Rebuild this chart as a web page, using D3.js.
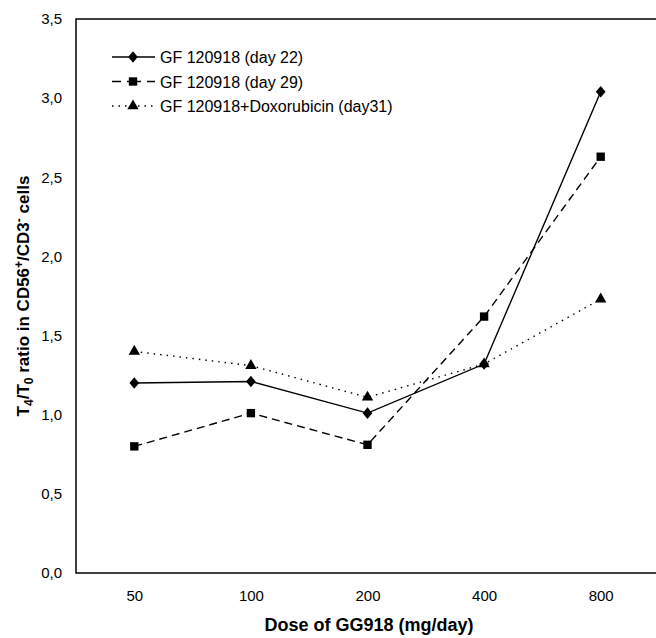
<!DOCTYPE html>
<html>
<head>
<meta charset="utf-8">
<script src="https://cdn.jsdelivr.net/npm/d3@7"></script>
<style>
  body { margin: 0; background: #fff; }
  text { font-family: "Liberation Sans", Arial, sans-serif; fill: #000; }
</style>
</head>
<body>
<div id="chart"></div>
<script>
// dose categories (mg/day)
var doses = ["50", "100", "200", "400", "800"];

// T4/T0 ratio per series
var day22 = [1.20, 1.21, 1.01, 1.32, 3.04];
var day29 = [0.80, 1.01, 0.81, 1.62, 2.63];
var doxo31 = [1.40, 1.31, 1.11, 1.32, 1.73];

var yTicks = [0, 0.5, 1, 1.5, 2, 2.5, 3, 3.5];

var seriesNames = ["GF 120918 (day 22)", "GF 120918 (day 29)", "GF 120918+Doxorubicin (day31)"];

var width = 656, height = 638;
var margin = {top: 19, right: -3, bottom: 65, left: 76};

var svg = d3.select("#chart").append("svg")
    .attr("width", width)
    .attr("height", height);

var x = d3.scalePoint()
    .domain(doses)
    .range([margin.left, width - margin.right])
    .padding(0.5);

var y = d3.scaleLinear()
    .domain([0, 3.5])
    .range([height - margin.bottom, margin.top]);

var fmt = function(d) { return d3.format(".1f")(d).replace(".", ","); };

// frame (right side falls just outside the picture)
svg.append("rect")
    .attr("x", margin.left)
    .attr("y", y(3.5))
    .attr("width", width - margin.right - margin.left)
    .attr("height", y(0) - y(3.5))
    .attr("fill", "none")
    .attr("stroke", "#000")
    .attr("stroke-width", 1.5);

// Y axis labels
var yAxis = svg.append("g")
    .attr("transform", "translate(" + margin.left + ",0)")
    .call(d3.axisLeft(y).tickValues(yTicks).tickFormat(fmt).tickSize(0).tickPadding(14));
yAxis.select(".domain").remove();
yAxis.selectAll("text")
    .style("font-size", "15px")
    .style("font-family", "'Liberation Sans', Arial, sans-serif");

// X axis labels
var xAxis = svg.append("g")
    .attr("transform", "translate(0," + y(0) + ")")
    .call(d3.axisBottom(x).tickSize(0).tickPadding(17));
xAxis.select(".domain").remove();
xAxis.selectAll("text")
    .style("font-size", "15px")
    .style("font-family", "'Liberation Sans', Arial, sans-serif");

// axis titles
svg.append("text")
    .attr("x", 369)
    .attr("y", 631)
    .attr("text-anchor", "middle")
    .style("font-size", "18px")
    .style("font-weight", "bold")
    .text("Dose of GG918 (mg/day)");

var yt = svg.append("text")
    .attr("transform", "translate(29," + ((y(0) + y(3.5)) / 2) + ") rotate(-90)")
    .attr("text-anchor", "middle")
    .style("font-size", "17px")
    .style("font-weight", "bold");
yt.append("tspan").text("T");
yt.append("tspan").attr("dy", 4).style("font-size", "12px").text("4");
yt.append("tspan").attr("dy", -4).text("/T");
yt.append("tspan").attr("dy", 4).style("font-size", "12px").text("0");
yt.append("tspan").attr("dy", -4).text(" ratio in CD56");
yt.append("tspan").attr("dy", -6).style("font-size", "12px").text("+");
yt.append("tspan").attr("dy", 6).text("/CD3");
yt.append("tspan").attr("dy", -6).style("font-size", "12px").text("-");
yt.append("tspan").attr("dy", 6).text(" cells");

var series = [
    {name: seriesNames[0], values: day22, dash: null, symbol: d3.symbolDiamond, size: 48},
    {name: seriesNames[1], values: day29, dash: "8,5", symbol: d3.symbolSquare, size: 70},
    {name: seriesNames[2], values: doxo31, dash: "1.5,5", symbol: d3.symbolTriangle, size: 56}
];

var line = d3.line()
    .x(function(d, i) { return x(doses[i]); })
    .y(function(d) { return y(d); });

series.forEach(function(s) {
    svg.append("path")
        .datum(s.values)
        .attr("d", line)
        .attr("fill", "none")
        .attr("stroke", "#000")
        .attr("stroke-width", 1.4)
        .attr("stroke-dasharray", s.dash);

    svg.selectAll(null)
        .data(s.values)
        .enter()
        .append("path")
        .attr("d", d3.symbol().type(s.symbol).size(s.size))
        .attr("transform", function(d, i) {
            var sc = s.symbol === d3.symbolDiamond ? " scale(1.3,0.9)" : "";
            return "translate(" + x(doses[i]) + "," + y(d) + ")" + sc;
        })
        .attr("fill", "#000");
});

// legend
var legend = svg.append("g");
series.forEach(function(s, i) {
    var ly = 57 + i * 24.5;
    var g = legend.append("g").attr("transform", "translate(0," + ly + ")");
    g.append("line")
        .attr("x1", 112).attr("x2", 155)
        .attr("stroke", "#000")
        .attr("stroke-width", 1.4)
        .attr("stroke-dasharray", s.dash ? (i === 1 ? "9,6,4,6,4,6,9" : "1.5,5") : null);
    g.append("path")
        .attr("d", d3.symbol().type(s.symbol).size(s.size))
        .attr("transform", "translate(133,0)" + (s.symbol === d3.symbolDiamond ? " scale(1.3,0.9)" : ""))
        .attr("fill", "#000");
    g.append("text")
        .attr("x", 160)
        .attr("y", 6)
        .style("font-size", "16px")
        .text(s.name);
});
</script>
</body>
</html>
